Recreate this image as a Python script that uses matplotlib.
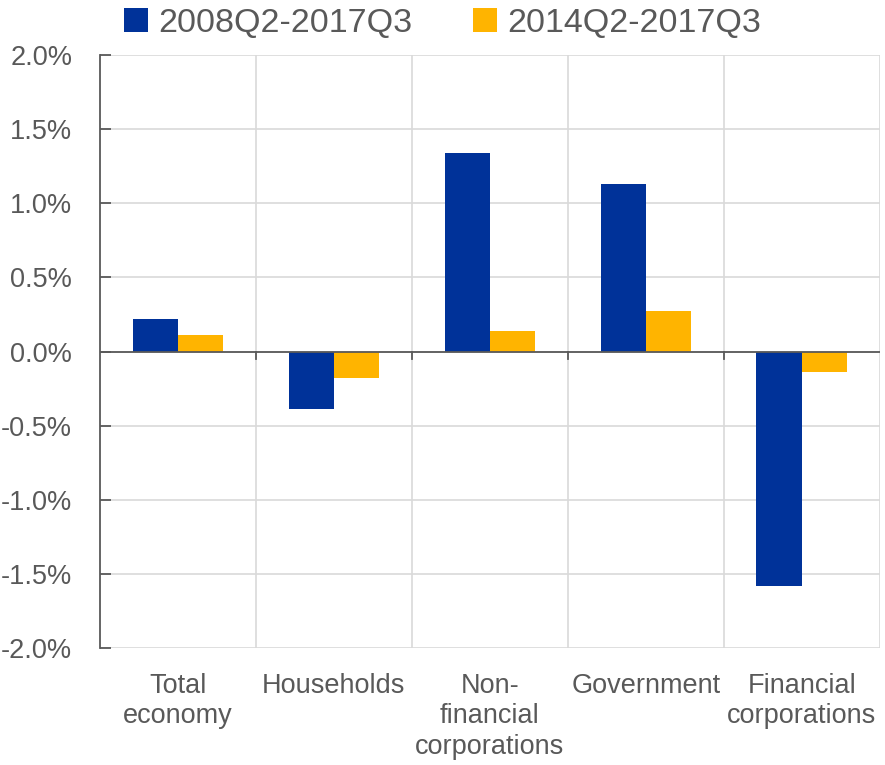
import numpy as np
import matplotlib.pyplot as plt
from matplotlib.ticker import FuncFormatter, MultipleLocator

plt.rcParams['font.family'] = ['Liberation Sans', 'DejaVu Sans']

categories = ["Total\neconomy", "Households", "Non-\nfinancial\ncorporations",
              "Government", "Financial\ncorporations"]
series_names = ["2008Q2-2017Q3", "2014Q2-2017Q3"]
long_period = [0.22, -0.39, 1.34, 1.13, -1.58]
short_period = [0.11, -0.18, 0.14, 0.27, -0.135]

blue = "#003299"
orange = "#FFB400"
txt = "#595959"
grid_c = "#d9d9d9"

fig = plt.figure(figsize=(8.85, 7.65), dpi=100)
ax = fig.add_axes([0.113, 0.153, 0.881, 0.775])

x = np.arange(len(categories))
w = 0.29
ax.bar(x - w / 2, long_period, w, color=blue, label=series_names[0], zorder=3)
ax.bar(x + w / 2, short_period, w, color=orange, label=series_names[1], zorder=3)

ax.set_xlim(-0.5, len(categories) - 0.5)
ax.set_ylim(-2.0, 2.0)
ax.yaxis.set_major_locator(MultipleLocator(0.5))
ax.yaxis.set_major_formatter(FuncFormatter(lambda v, p: f"{v:.1f}%"))

# grid: horizontal at ticks, vertical at category boundaries
for yv in np.arange(-2.0, 2.01, 0.5):
    ax.axhline(yv, color=grid_c, lw=1.2, zorder=1)
for b in np.arange(0.5, len(categories) - 0.5 + 0.01, 1.0):
    ax.axvline(b, color=grid_c, lw=1.2, zorder=1)
ax.axhline(0, color=txt, lw=1.3, zorder=4)
for b in np.arange(0.5, len(categories) - 0.5, 1.0):
    ax.plot([b, b], [0, -0.05], color=txt, lw=1.3, zorder=4)

ax.set_xticks(x)
ax.set_xticklabels(categories, fontsize=19.5, color=txt, linespacing=1.22)
ax.tick_params(axis='x', length=0, pad=18)
ax.tick_params(axis='y', direction='in', length=8, width=1.3, color=txt,
               labelsize=19.5, labelcolor=txt, pad=20)
for lab in ax.get_yticklabels():
    lab.set_horizontalalignment('right')

for s in ['top', 'right', 'bottom']:
    ax.spines[s].set_visible(False)
ax.spines['left'].set_color(txt)
ax.spines['left'].set_linewidth(1.3)

fig.legend(loc='upper center', bbox_to_anchor=(0.5, 1.03), ncol=2, frameon=False,
           fontsize=24.5, labelcolor=txt, handlelength=0.7, handleheight=0.7,
           handletextpad=0.3, columnspacing=1.8)

fig.savefig("out.png", dpi=100)
